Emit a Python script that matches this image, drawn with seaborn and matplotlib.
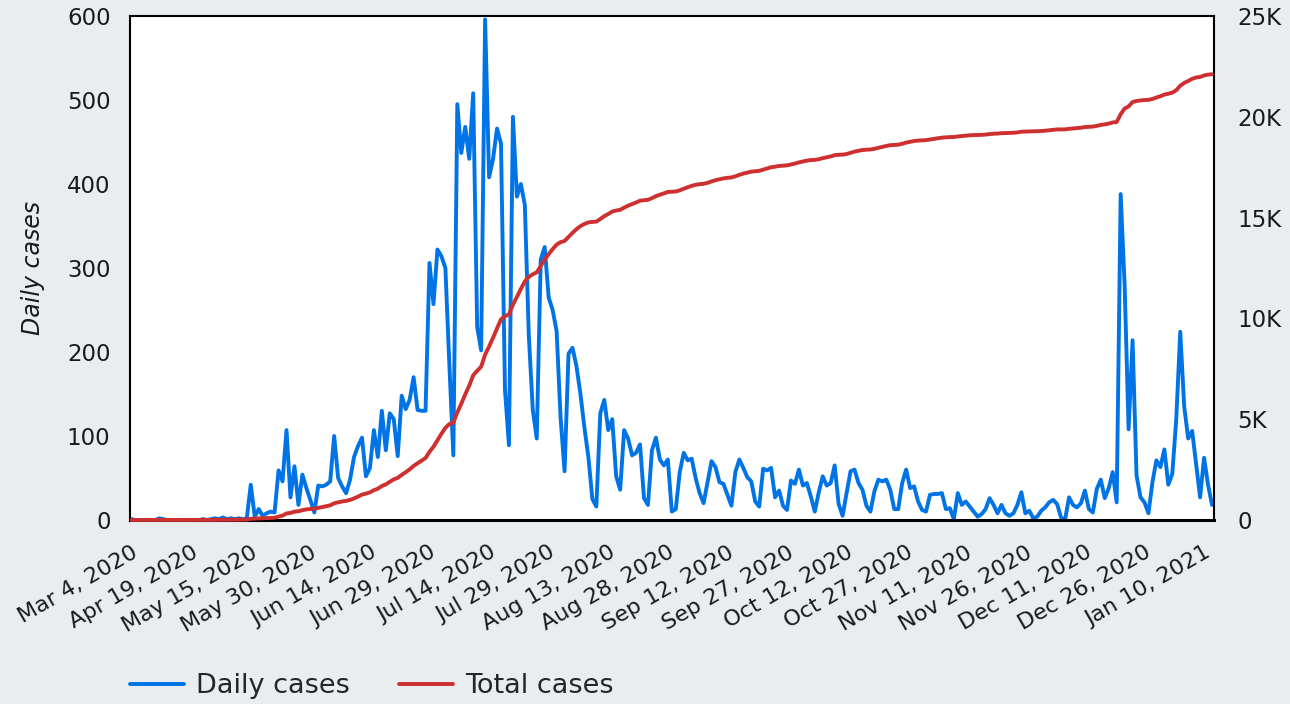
import numpy as np
import pandas as pd
import matplotlib
matplotlib.use("Agg")
import matplotlib.pyplot as plt
import seaborn as sns

# report dates before mid May were not daily
early_dates = ["2020-03-04", "2020-03-05", "2020-03-10", "2020-03-13", "2020-03-16",
               "2020-03-19", "2020-03-22", "2020-03-25", "2020-03-28", "2020-03-31",
               "2020-04-03", "2020-04-06", "2020-04-09", "2020-04-12", "2020-04-16",
               "2020-04-19", "2020-04-21", "2020-04-23", "2020-04-25", "2020-04-27",
               "2020-04-29", "2020-05-01", "2020-05-03", "2020-05-05", "2020-05-07",
               "2020-05-08", "2020-05-10", "2020-05-11", "2020-05-12", "2020-05-14"]
daily_dates = pd.date_range("2020-05-15", "2021-01-12")

daily_cases = [
    1, 0, 0, 0, 0, 0, 0, 2, 1, 0,
    0, 0, 0, 0, 0, 0, 0, 0, 1, 0,
    1, 2, 1, 3, 1, 2, 1, 2, 1, 2,
    42, 4, 13, 5, 8, 10, 9, 59, 46, 107,
    27, 64, 18, 54, 38, 24, 9, 41, 40, 42,
    46, 100, 50, 40, 32, 48, 75, 88, 98, 52,
    62, 107, 75, 130, 83, 127, 120, 76, 148, 132,
    143, 170, 131, 130, 130, 306, 257, 322, 314, 300,
    185, 77, 495, 437, 468, 430, 508, 230, 202, 596,
    408, 430, 466, 448, 155, 89, 480, 385, 400, 375,
    220, 131, 97, 310, 325, 265, 250, 225, 122, 58,
    198, 205, 183, 150, 110, 75, 25, 16, 127, 143,
    107, 120, 52, 36, 107, 97, 77, 80, 90, 26,
    18, 83, 98, 72, 65, 72, 10, 13, 57, 80,
    71, 73, 50, 32, 20, 45, 70, 63, 45, 43,
    30, 17, 57, 72, 62, 51, 46, 22, 16, 61,
    59, 62, 27, 35, 17, 12, 47, 43, 60, 41,
    44, 28, 10, 33, 52, 41, 44, 65, 19, 5,
    32, 58, 60, 44, 36, 17, 10, 34, 48, 46,
    48, 36, 13, 13, 44, 60, 38, 40, 22, 12,
    10, 30, 31, 31, 32, 13, 14, 1, 32, 18,
    22, 16, 10, 4, 7, 13, 26, 18, 8, 18,
    8, 5, 8, 18, 33, 8, 11, 2, 4, 11,
    15, 21, 24, 19, 3, 0, 27, 18, 15, 20,
    35, 13, 9, 37, 48, 26, 38, 57, 21, 388,
    280, 108, 214, 53, 27, 21, 8, 45, 71, 63,
    84, 42, 55, 120, 224, 135, 97, 106, 67, 27,
    74, 42, 18,
]

total_cases = [
    1, 1, 1, 1, 1, 1, 1, 3, 4, 4,
    4, 4, 4, 4, 4, 4, 4, 4, 5, 5,
    6, 8, 9, 12, 13, 15, 16, 18, 19, 21,
    63, 67, 80, 85, 93, 103, 112, 171, 217, 324,
    351, 415, 433, 487, 525, 549, 558, 599, 639, 681,
    727, 827, 877, 917, 949, 997, 1072, 1160, 1258, 1310,
    1372, 1479, 1554, 1684, 1767, 1894, 2014, 2090, 2238, 2370,
    2513, 2683, 2814, 2944, 3074, 3380, 3637, 3959, 4273, 4573,
    4758, 4835, 5330, 5767, 6235, 6665, 7173, 7403, 7605, 8201,
    8609, 9039, 9505, 9953, 10108, 10197, 10677, 11062, 11462, 11837,
    12057, 12188, 12285, 12595, 12920, 13185, 13435, 13660, 13782, 13840,
    14038, 14243, 14426, 14576, 14686, 14761, 14786, 14802, 14929, 15072,
    15179, 15299, 15351, 15387, 15494, 15591, 15668, 15748, 15838, 15864,
    15882, 15965, 16063, 16135, 16200, 16272, 16282, 16295, 16352, 16432,
    16503, 16576, 16626, 16658, 16678, 16723, 16793, 16856, 16901, 16944,
    16974, 16991, 17048, 17120, 17182, 17233, 17279, 17301, 17317, 17378,
    17437, 17499, 17526, 17561, 17578, 17590, 17637, 17680, 17740, 17781,
    17825, 17853, 17863, 17896, 17948, 17989, 18033, 18098, 18117, 18122,
    18154, 18212, 18272, 18316, 18352, 18369, 18379, 18413, 18461, 18507,
    18555, 18591, 18604, 18617, 18661, 18721, 18759, 18799, 18821, 18833,
    18843, 18873, 18904, 18935, 18967, 18980, 18994, 18995, 19027, 19045,
    19067, 19083, 19093, 19097, 19104, 19117, 19143, 19161, 19169, 19187,
    19195, 19200, 19208, 19226, 19259, 19267, 19278, 19280, 19284, 19295,
    19310, 19331, 19355, 19374, 19377, 19377, 19404, 19422, 19437, 19457,
    19492, 19505, 19514, 19551, 19599, 19625, 19663, 19720, 19741, 20129,
    20409, 20517, 20731, 20784, 20811, 20832, 20840, 20885, 20956, 21019,
    21103, 21145, 21200, 21320, 21544, 21679, 21776, 21882, 21949, 21976,
    22050, 22092, 22110,
]

tick_labels = ["Mar 4, 2020", "Apr 19, 2020", "May 15, 2020", "May 30, 2020",
               "Jun 14, 2020", "Jun 29, 2020", "Jul 14, 2020", "Jul 29, 2020",
               "Aug 13, 2020", "Aug 28, 2020", "Sep 12, 2020", "Sep 27, 2020",
               "Oct 12, 2020", "Oct 27, 2020", "Nov 11, 2020", "Nov 26, 2020",
               "Dec 11, 2020", "Dec 26, 2020", "Jan 10, 2021"]
right_labels = ["0", "5K", "10K", "15K", "20K", "25K"]

dates = list(pd.to_datetime(early_dates)) + list(daily_dates)
df = pd.DataFrame({"day": np.arange(len(dates)), "date": dates,
                   "daily": daily_cases, "total": total_cases})

BLUE = "#0073E6"
RED = "#CE2F2F"
BG = "#EAEDF0"

sns.set_theme(style="white")
plt.rcParams["font.family"] = ["DejaVu Sans"]

W, H = 1290, 704
fig = plt.figure(figsize=(W / 100, H / 100), dpi=100, facecolor=BG)
ax = fig.add_axes([130 / W, 1 - 520 / H, (1214 - 130) / W, (520 - 16) / H])
ax.set_facecolor("white")

sns.lineplot(data=df, x="day", y="daily", ax=ax, color=BLUE, linewidth=2.8,
             label="Daily cases", legend=False)
ax2 = ax.twinx()
sns.lineplot(data=df, x="day", y="total", ax=ax2, color=RED, linewidth=2.8,
             label="Total cases", legend=False)

ax.set_xlim(-0.4, len(dates) - 0.5)
ax.set_ylim(0, 600)
ax2.set_ylim(0, 25000)
ax.set_yticks(range(0, 601, 100))
ax2.set_yticks(range(0, 25001, 5000))
ax2.set_yticklabels(right_labels)

ax.set_xticks(df["day"][::15])
ax.set_xticklabels(tick_labels, rotation=30, ha="right", rotation_mode="anchor")

ax.set_xlabel("")
ax2.set_ylabel("")
ax.set_ylabel("Daily cases", fontsize=17, fontstyle="italic", color="#1a1a1a")
ax.yaxis.set_label_coords(-0.078, 0.5)

ax.tick_params(axis="x", length=0, pad=16, labelsize=16, labelcolor="#1a1a1a")
ax.tick_params(axis="y", length=0, pad=14, labelsize=16.5, labelcolor="#1a1a1a")
ax2.tick_params(axis="y", length=0, pad=17, labelsize=16.5, labelcolor="#1a1a1a")

for name, sp in ax.spines.items():
    sp.set_visible(True)
    sp.set_color("black")
    sp.set_linewidth(2.2 if name == "bottom" else 1.5)
for sp in ax2.spines.values():
    sp.set_visible(False)

for line in ax2.lines:
    line.set_clip_on(False)

handles = [ax.lines[0], ax2.lines[0]]
fig.legend(handles, ["Daily cases", "Total cases"], loc="center left",
           bbox_to_anchor=(130 / W, 1 - 686 / H), ncol=2, frameon=False,
           fontsize=19.5, handlelength=2.0, handletextpad=0.45,
           columnspacing=1.8, borderpad=0, borderaxespad=0)

fig.savefig("out.png", dpi=100, facecolor=BG)
